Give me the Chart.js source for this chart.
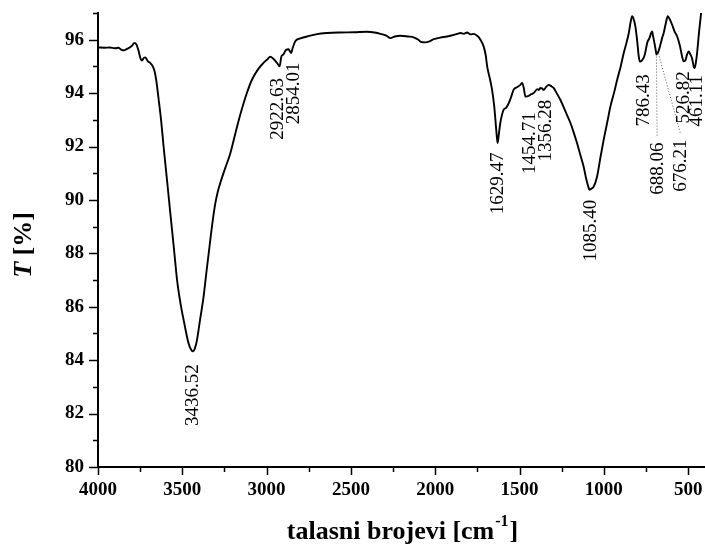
<!DOCTYPE html>
<html><head><meta charset="utf-8">
<script src="https://cdn.jsdelivr.net/npm/chart.js@4.4.0/dist/chart.umd.min.js"></script>
<style>html,body{margin:0;padding:0;background:#fff}#wrap{width:705px;height:546px;position:relative}</style>
</head><body><div id="wrap"><canvas id="c" width="705" height="546"></canvas></div>
<script>
const wavenumbers = [4000,3960,3930,3900,3880,3860,3845,3830,3810,3795,3785,3772,3760,3748,3739,3728,3719,3705,3690,3675,3664,3655,3640,3626,3611,3590,3571,3550,3531,3510,3492,3463,3450,3437,3425,3413,3395,3374,3355,3334,3318,3304,3290,3275,3245,3215,3185,3156,3120,3087,3050,3020,2998,2978,2962,2950,2935,2923,2912,2900,2885,2870,2855,2845,2830,2800,2760,2701,2640,2563,2480,2404,2360,2325,2290,2266,2240,2207,2160,2128,2100,2085,2060,2030,2009,1970,1930,1890,1870,1851,1830,1811,1790,1770,1752,1740,1732,1713,1700,1692,1678,1663,1650,1643,1635,1630,1622,1614,1594,1580,1564,1550,1535,1515,1495,1485,1475,1465,1455,1446,1430,1416,1395,1385,1376,1366,1357,1340,1327,1310,1297,1280,1258,1230,1198,1180,1159,1140,1120,1105,1090,1085,1075,1060,1040,1020,1001,980,961,940,921,900,882,865,852,840,832,822,813,803,793,786,775,760,750,743,730,714,707,700,692,688,682,676,665,655,645,633,621,608,595,580,565,550,536,527,517,506,497,487,477,467,461,454,447,435,423];
const transmittance = [95.71,95.70,95.71,95.68,95.70,95.62,95.60,95.65,95.72,95.80,95.88,95.82,95.60,95.30,95.22,95.32,95.34,95.20,95.13,95.00,94.81,94.50,93.75,93.00,92.0,90.7,89.5,88.2,87.0,86.1,85.5,84.63,84.42,84.33,84.45,84.75,85.5,86.37,87.4,88.5,89.3,89.88,90.3,90.63,91.2,91.75,92.5,93.2,93.95,94.5,94.9,95.12,95.25,95.36,95.30,95.22,95.10,95.00,95.38,95.45,95.62,95.64,95.50,95.70,95.94,96.05,96.12,96.21,96.25,96.27,96.28,96.30,96.27,96.22,96.15,96.06,96.12,96.15,96.12,96.09,96.00,95.92,95.90,95.95,96.02,96.08,96.12,96.18,96.22,96.25,96.22,96.27,96.20,96.22,96.15,96.08,96.00,95.75,95.40,95.00,94.6,94.13,93.5,93.00,92.4,92.13,92.5,92.88,93.38,93.45,93.62,93.85,94.13,94.22,94.31,94.38,94.2,93.87,93.88,93.90,93.96,94.00,94.15,94.12,94.19,94.18,94.12,94.25,94.31,94.25,94.19,94.0,93.75,93.35,92.88,92.55,92.13,91.7,91.25,90.8,90.45,90.38,90.42,90.50,90.88,91.6,92.25,92.9,93.5,94.0,94.5,95.0,95.5,95.9,96.25,96.7,96.88,96.75,96.5,96.0,95.38,95.18,95.22,95.38,95.65,95.88,96.05,96.31,96.1,95.88,95.6,95.44,95.50,95.56,95.8,96.05,96.25,96.6,96.88,96.75,96.56,96.3,96.12,95.8,95.38,95.19,95.22,95.45,95.56,95.45,95.31,95.0,94.94,95.15,95.5,96.3,97.0];
const peakPositions = [3436.52,2922.63,2854.01,1629.47,1454.71,1356.28,1085.40,786.43,688.06,676.21,526.82,461.11];
const peakLabels = ['3436.52','2922.63','2854.01','1629.47','1454.71','1356.28','1085.40','786.43','688.06','676.21','526.82','461.11'];
const xMajorTicks = [4000,3500,3000,2500,2000,1500,1000,500];
const xMinorTicks = [3750,3250,2750,2250,1750,1250,750];
const yMajorTicks = [80,82,84,86,88,90,92,94,96];
const yMinorTicks = [81,83,85,87,89,91,93,95,97];
const xTitle = 'talasni brojevi [cm';
const xTitleSup = '-1';
const yTitleItalic = 'T';
const yTitleRest = ' [%]';

// label placement (pixel offsets from the curve point): [dx, gap, leader]
const labelPlacement = [[-1,13,0],[-3,12,0],[2,10,0],[-1,10,0],[1.5,16,0],[1.5,10,0],[1,10,0],[3,13,0],[0.7,88,1],[22,88,1],[-1,10,0],[1,7,0]];

function valueAt(x){
  for(let i=0;i<wavenumbers.length-1;i++){
    const a=wavenumbers[i], b=wavenumbers[i+1];
    if((x<=a&&x>=b)){const t=(a-x)/(a-b);return transmittance[i]+t*(transmittance[i+1]-transmittance[i]);}
  }
  return transmittance[transmittance.length-1];
}

const FONT='"Liberation Serif","Times New Roman",serif';

function noPad(s){s.paddingTop=0;s.paddingBottom=0;s.paddingLeft=0;s.paddingRight=0;}

const decor = {
  id:'decor',
  afterDraw(chart){
    const ctx=chart.ctx, xs=chart.scales.x, ys=chart.scales.y, area=chart.chartArea;
    ctx.save();
    ctx.strokeStyle='#000'; ctx.lineWidth=1.5;
    xMajorTicks.forEach(v=>{const p=Math.round(xs.getPixelForValue(v))+0.5;ctx.beginPath();ctx.moveTo(p,area.bottom);ctx.lineTo(p,area.bottom+8);ctx.stroke();});
    xMinorTicks.forEach(v=>{const p=Math.round(xs.getPixelForValue(v))+0.5;ctx.beginPath();ctx.moveTo(p,area.bottom);ctx.lineTo(p,area.bottom+5);ctx.stroke();});
    yMajorTicks.forEach(v=>{const p=Math.round(ys.getPixelForValue(v))+0.5;ctx.beginPath();ctx.moveTo(area.left,p);ctx.lineTo(area.left-9,p);ctx.stroke();});
    yMinorTicks.forEach(v=>{const p=Math.round(ys.getPixelForValue(v))+0.5;ctx.beginPath();ctx.moveTo(area.left,p);ctx.lineTo(area.left-5,p);ctx.stroke();});
    ctx.fillStyle='#000';
    ctx.font='19px '+FONT;
    ctx.textAlign='right'; ctx.textBaseline='middle';
    peakPositions.forEach((pk,i)=>{
      const px=xs.getPixelForValue(pk), py=ys.getPixelForValue(valueAt(pk));
      const [dx,gap,leader]=labelPlacement[i];
      const cx=px+dx, top=py+gap;
      if(leader){
        ctx.save();ctx.strokeStyle='#555';ctx.lineWidth=1;ctx.setLineDash([1,2]);
        ctx.beginPath();ctx.moveTo(px,py+2);ctx.lineTo(cx,top-6);ctx.stroke();ctx.restore();
      }
      ctx.save();ctx.translate(cx,top);ctx.rotate(-Math.PI/2);ctx.fillText(peakLabels[i],0,1);ctx.restore();
    });
    ctx.textAlign='left'; ctx.textBaseline='alphabetic';
    ctx.font='bold 26px '+FONT;
    const w1=ctx.measureText(xTitle).width;
    ctx.font='bold 16px '+FONT;
    const w2=ctx.measureText(xTitleSup).width;
    ctx.font='bold 26px '+FONT;
    const w3=ctx.measureText(']').width;
    const cxT=(area.left+area.right)/2;
    let sx=cxT-(w1+w2+w3)/2, by=539;
    ctx.fillText(xTitle,sx,by);
    ctx.font='bold 16px '+FONT; ctx.fillText(xTitleSup,sx+w1+1,by-13);
    ctx.font='bold 26px '+FONT; ctx.fillText(']',sx+w1+w2+2,by);
    ctx.save();
    ctx.translate(31,(area.top+area.bottom)/2+5);ctx.rotate(-Math.PI/2);
    ctx.font='italic bold 26px '+FONT; const t1=ctx.measureText(yTitleItalic).width;
    ctx.font='bold 26px '+FONT; const t2=ctx.measureText(yTitleRest).width;
    let s=-(t1+t2)/2;
    ctx.font='italic bold 26px '+FONT; ctx.fillText(yTitleItalic,s,0);
    ctx.font='bold 26px '+FONT; ctx.fillText(yTitleRest,s+t1,0);
    ctx.restore();
    ctx.restore();
  }
};

new Chart(document.getElementById('c'),{
  type:'line',
  data:{datasets:[{data:wavenumbers.map((x,i)=>({x:x,y:transmittance[i]})),borderColor:'#000',borderWidth:1.9,pointRadius:0,cubicInterpolationMode:'monotone',fill:false}]},
  options:{
    responsive:false,animation:false,devicePixelRatio:1,
    layout:{padding:{top:13,right:0,left:0,bottom:0}},
    plugins:{legend:{display:false},tooltip:{enabled:false}},
    scales:{
      x:{type:'linear',reverse:true,min:400,max:4000,
        afterBuildTicks:s=>{s.ticks=xMajorTicks.map(v=>({value:v}));},
        afterFit:s=>{s.height=79;noPad(s);},
        grid:{drawOnChartArea:false,drawTicks:false},
        border:{display:true,color:'#000',width:2},
        ticks:{color:'#000',font:{family:FONT,size:19,weight:'bold'},padding:12,maxRotation:0,autoSkip:false,callback:v=>String(v)}},
      y:{type:'linear',min:80,max:97,
        afterBuildTicks:s=>{s.ticks=yMajorTicks.map(v=>({value:v}));},
        afterFit:s=>{s.width=98;noPad(s);},
        grid:{drawOnChartArea:false,drawTicks:false},
        border:{display:true,color:'#000',width:2},
        ticks:{color:'#000',font:{family:FONT,size:19,weight:'bold'},padding:14,callback:v=>String(v)}}
    }
  },
  plugins:[decor]
});
</script></body></html>
